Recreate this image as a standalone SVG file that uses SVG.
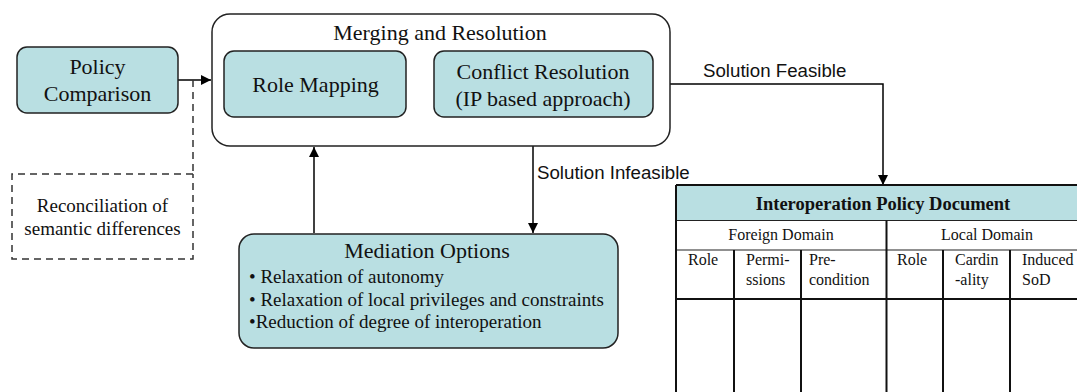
<svg xmlns="http://www.w3.org/2000/svg" width="1077" height="392" viewBox="0 0 1077 392">
  <defs>
    <marker id="arrow" viewBox="0 0 10 10" refX="10" refY="5" markerWidth="10" markerHeight="10" markerUnits="userSpaceOnUse" orient="auto">
      <path d="M0,0 L10,5 L0,10 z" fill="#000"/>
    </marker>
    <style>
      .box { fill: #b9dfe2; stroke: #222; stroke-width: 1.5; }
      .frame { fill: #fff; stroke: #222; stroke-width: 1.5; }
      .serif { font-family: "Liberation Serif", "Times New Roman", serif; fill: #111; }
      .sans { font-family: "Liberation Sans", Arial, sans-serif; fill: #111; }
      .big { font-size: 22px; }
      .mid { font-size: 19px; }
      .cell { font-size: 16px; }
      .link { fill: none; stroke: #000; stroke-width: 1.5; }
      .dash { fill: none; stroke: #333; stroke-width: 1.5; stroke-dasharray: 7 5; }
      .grid { stroke: #111; stroke-width: 2; fill: none; }
      .thin { stroke: #222; stroke-width: 1.2; fill: none; }
    </style>
  </defs>
  <rect width="1077" height="392" fill="#fff"/>

  <!-- connectors -->
  <g id="connectors">
    <line class="link" x1="178" y1="80" x2="211" y2="80" marker-end="url(#arrow)"/>
    <polyline class="link" points="653,84 883,84 883,185" marker-end="url(#arrow)"/>
    <line class="link" x1="533" y1="117" x2="533" y2="233" marker-end="url(#arrow)"/>
    <line class="link" x1="314" y1="233" x2="314" y2="147" marker-end="url(#arrow)"/>
    <line class="dash" x1="193" y1="80" x2="193" y2="174"/>
    <text class="sans" x="703" y="77" font-size="18.7">Solution Feasible</text>
    <text class="sans" x="537" y="179" font-size="18.7">Solution Infeasible</text>
  </g>

  <!-- policy comparison -->
  <g id="policy-comparison">
    <rect class="box" x="17" y="47" width="161" height="66" rx="10"/>
    <text class="serif big" x="97.5" y="74" text-anchor="middle">Policy</text>
    <text class="serif big" x="97.5" y="101" text-anchor="middle">Comparison</text>
  </g>

  <!-- merging and resolution container -->
  <g id="merging-resolution">
    <rect class="frame" x="212" y="14" width="458" height="132" rx="18"/>
    <text class="serif big" x="440" y="40" text-anchor="middle">Merging and Resolution</text>
  </g>

  <g id="role-mapping">
    <rect class="box" x="224" y="51" width="182" height="66" rx="10"/>
    <text class="serif big" x="315.5" y="92" text-anchor="middle">Role Mapping</text>
  </g>

  <g id="conflict-resolution">
    <rect class="box" x="434" y="51" width="219" height="66" rx="10"/>
    <text class="serif big" x="543" y="79" text-anchor="middle">Conflict Resolution</text>
    <text class="serif big" x="543" y="106" text-anchor="middle">(IP based approach)</text>
  </g>

  <!-- reconciliation note -->
  <g id="reconciliation">
    <path class="dash" d="M193,174 L12,174 L12,259 L193,259 L193,174"/>
    <text class="serif" font-size="19" x="102.5" y="212" text-anchor="middle">Reconciliation of</text>
    <text class="serif" font-size="19" x="102.5" y="235" text-anchor="middle">semantic differences</text>
  </g>

  <!-- mediation options -->
  <g id="mediation-options">
    <rect class="box" x="239" y="234" width="379" height="114" rx="15"/>
    <text class="serif big" x="427" y="258" text-anchor="middle">Mediation Options</text>
    <text class="serif mid" x="249" y="283">• Relaxation of autonomy</text>
    <text class="serif mid" x="249" y="306">• Relaxation of local privileges and constraints</text>
    <text class="serif mid" x="249" y="327.5">•Reduction of degree of interoperation</text>
  </g>

  <!-- interoperation policy document table -->
  <g id="policy-document">
    <rect x="676" y="185" width="420" height="35" fill="#b9dfe2"/>
    <line class="grid" x1="676" y1="185" x2="1077" y2="185"/>
    <line class="thin" x1="676" y1="220.5" x2="1077" y2="220.5"/>
    <line class="thin" x1="676" y1="250" x2="1077" y2="250"/>
    <line class="grid" x1="676" y1="299" x2="1077" y2="299"/>
    <line class="grid" x1="676" y1="185" x2="676" y2="392"/>
    <line class="grid" x1="886.5" y1="220.5" x2="886.5" y2="392"/>
    <line class="grid" x1="734" y1="250" x2="734" y2="392"/>
    <line class="grid" x1="801" y1="250" x2="801" y2="392"/>
    <line class="grid" x1="943" y1="250" x2="943" y2="392"/>
    <line class="grid" x1="1010" y1="250" x2="1010" y2="392"/>

    <text class="serif" font-size="18.5" font-weight="bold" x="883" y="210" text-anchor="middle">Interoperation Policy Document</text>
    <text class="serif cell" x="781" y="240" text-anchor="middle">Foreign Domain</text>
    <text class="serif cell" x="987" y="240" text-anchor="middle">Local Domain</text>

    <text class="serif cell" x="688" y="265">Role</text>
    <text class="serif cell" x="746" y="265">Permi-</text>
    <text class="serif cell" x="746" y="285">ssions</text>
    <text class="serif cell" x="809" y="265">Pre-</text>
    <text class="serif cell" x="809" y="285">condition</text>
    <text class="serif cell" x="897" y="265">Role</text>
    <text class="serif cell" x="955" y="265">Cardin</text>
    <text class="serif cell" x="955" y="285">-ality</text>
    <text class="serif cell" x="1022" y="265">Induced</text>
    <text class="serif cell" x="1022" y="285">SoD</text>
  </g>
</svg>
